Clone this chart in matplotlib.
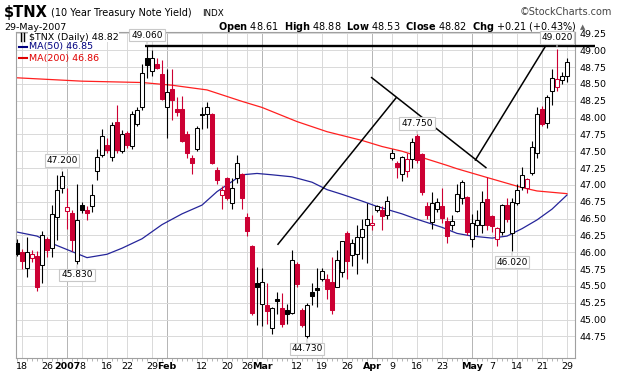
import matplotlib
matplotlib.use("Agg")
from matplotlib import pyplot as plt
from matplotlib.patches import Rectangle
import numpy as np
import pandas as pd

# trading days on the chart (15 Dec is cut off by the left edge)
holidays = ["2006-12-25", "2007-01-01", "2007-01-02", "2007-01-15",
            "2007-02-19", "2007-04-06", "2007-05-28"]
days = pd.bdate_range("2006-12-15", "2007-05-29")
days = days[~days.isin(pd.to_datetime(holidays))]

# daily OHLC of $TNX (yield x10)
opens = [46.14, 46.00, 45.77, 45.92, 45.94, 45.81, 46.19, 46.06, 46.52, 46.96,
         46.61, 46.58, 45.87, 46.70, 46.63, 46.69, 47.21, 47.44, 47.59, 47.41,
         47.94, 47.51, 47.77, 47.58, 47.90, 48.15, 48.88, 48.69, 48.79, 48.64,
         48.15, 48.43, 48.13, 48.13, 47.75, 47.40, 47.54, 48.06, 48.05, 48.06,
         47.22, 46.85, 47.10, 46.73, 47.10, 47.16, 46.52, 46.09, 45.54, 45.23,
         45.21, 44.87, 45.30, 45.17, 45.15, 45.10, 45.82, 45.15, 44.75, 45.41,
         45.47, 45.61, 45.61, 45.56, 45.49, 45.71, 46.29, 45.96, 45.98, 46.22,
         46.40, 46.40, 46.62, 46.62, 46.56, 47.40, 47.33, 47.16, 47.20, 47.38,
         47.72, 47.46, 46.69, 46.45, 46.64, 46.69, 46.46, 46.40, 46.61, 46.80,
         46.82, 46.20, 46.41, 46.40, 46.79, 46.54, 46.20, 46.30, 46.70, 46.29,
         46.73, 46.97, 46.96, 47.18, 47.48, 48.13, 47.92, 48.40, 48.45, 48.55,
         48.61]
highs = [46.20, 46.05, 46.23, 46.03, 46.02, 46.31, 46.23, 46.70, 47.15, 47.20,
         46.95, 46.62, 47.02, 46.75, 46.68, 47.02, 47.54, 47.83, 47.69, 47.94,
         48.19, 47.82, 47.80, 48.10, 48.15, 48.79, 49.06, 49.01, 48.88, 48.85,
         48.72, 48.72, 48.30, 48.32, 47.80, 47.45, 47.87, 48.15, 48.23, 48.07,
         47.26, 46.99, 47.12, 47.10, 47.44, 47.18, 46.59, 46.11, 45.78, 45.76,
         45.54, 45.19, 45.41, 45.39, 45.23, 46.03, 45.86, 45.17, 45.24, 45.54,
         45.77, 45.77, 45.68, 45.93, 46.03, 46.16, 46.31, 46.20, 46.40, 46.50,
         46.73, 46.55, 46.70, 46.68, 46.83, 47.54, 47.35, 47.43, 47.48, 47.70,
         47.75, 47.47, 46.75, 46.90, 46.80, 46.96, 46.53, 46.55, 47.02, 47.07,
         46.83, 46.57, 46.63, 46.91, 47.11, 46.55, 46.37, 46.72, 46.80, 46.80,
         47.02, 47.27, 47.10, 47.65, 48.16, 48.17, 48.33, 48.72, 49.02, 48.67,
         48.88]
lows = [45.95, 45.75, 45.64, 45.86, 45.43, 45.54, 45.93, 45.93, 46.18, 46.88,
        46.35, 46.02, 45.83, 46.58, 46.48, 46.60, 47.07, 47.41, 47.47, 47.36,
        47.47, 47.47, 47.55, 47.54, 47.87, 48.11, 48.58, 48.62, 48.72, 48.26,
        47.70, 47.97, 48.03, 47.64, 47.40, 47.16, 47.50, 47.83, 47.85, 47.31,
        47.01, 46.64, 46.78, 46.64, 47.03, 46.64, 46.24, 45.07, 44.92, 44.91,
        44.94, 44.78, 45.09, 44.89, 44.94, 45.09, 45.49, 44.89, 44.73, 45.21,
        45.19, 45.58, 45.31, 45.08, 45.48, 45.64, 45.61, 45.80, 45.68, 45.90,
        45.84, 46.33, 46.60, 46.33, 46.50, 47.37, 47.10, 47.06, 47.12, 47.25,
        47.33, 46.85, 46.50, 46.35, 46.60, 46.43, 46.13, 46.33, 46.60, 46.72,
        46.25, 46.08, 46.25, 46.29, 46.33, 46.30, 46.10, 46.25, 46.45, 46.02,
        46.70, 46.92, 46.88, 47.15, 47.40, 47.87, 47.85, 48.18, 48.40, 48.50,
        48.53]
closes = [45.98, 45.87, 46.00, 45.97, 45.49, 46.26, 46.04, 46.57, 46.92, 47.13,
          46.67, 46.18, 46.48, 46.62, 46.58, 46.85, 47.41, 47.72, 47.52, 47.89,
          47.52, 47.75, 47.59, 48.05, 48.11, 48.66, 48.78, 48.89, 48.73, 48.27,
          48.38, 48.26, 48.08, 47.65, 47.47, 47.32, 47.85, 48.04, 48.16, 47.32,
          47.07, 46.92, 46.81, 46.95, 47.32, 46.80, 46.32, 45.10, 45.49, 45.56,
          45.13, 45.17, 45.27, 44.94, 45.08, 45.89, 45.53, 44.92, 45.21, 45.35,
          45.44, 45.72, 45.45, 45.15, 45.89, 46.16, 45.87, 46.13, 46.22, 46.34,
          46.50, 46.44, 46.68, 46.54, 46.76, 47.47, 47.26, 47.41, 47.39, 47.63,
          47.37, 46.90, 46.56, 46.73, 46.75, 46.51, 46.24, 46.47, 46.87, 47.05,
          46.30, 46.44, 46.48, 46.75, 46.41, 46.39, 46.36, 46.70, 46.50, 46.74,
          46.92, 47.14, 47.09, 47.56, 48.05, 47.90, 48.31, 48.58, 48.57, 48.61,
          48.82]
prev_close = 45.90  # close before the first bar, only sets its colour

# moving averages (position: trading day, 18 Dec = 0)
ma50_pos = [-1, 3, 6, 9, 13, 17, 20, 24, 28, 32, 36, 39, 44, 47, 50, 54, 58,
            61, 64, 68, 71, 76, 79, 84, 87, 90, 94, 97, 100, 103, 106, 109]
ma50_vals = [46.30, 46.24, 46.13, 46.04, 45.92, 45.97, 46.06, 46.20, 46.41,
             46.57, 46.70, 46.90, 47.15, 47.17, 47.15, 47.12, 47.04, 46.93,
             46.86, 46.76, 46.68, 46.57, 46.49, 46.37, 46.28, 46.24, 46.21,
             46.24, 46.35, 46.48, 46.64, 46.85]
ma200_pos = [-1, 12, 24, 30, 37, 44, 48, 52, 55, 61, 68, 72, 76, 79, 85, 87,
             93, 100, 103, 109]
ma200_vals = [48.59, 48.54, 48.52, 48.48, 48.41, 48.24, 48.15, 48.03, 47.94,
              47.79, 47.66, 47.57, 47.50, 47.43, 47.29, 47.24, 47.11, 46.96,
              46.91, 46.87]

# hand drawn trend lines: (day0, value0, day1, value1)
trendlines = [(24.6, 49.06, 114.6, 49.06),
              (51.1, 46.11, 74.9, 48.30),
              (69.8, 48.60, 92.9, 47.25),
              (90.6, 47.36, 104.7, 49.06)]

# flagged highs / lows
flag_days = [25, 8, 11, 57, 79, 98, 107]
flag_kind = ["high", "high", "low", "low", "high", "low", "high"]

tick_dates = ["2006-12-18", "2006-12-26", "2007-01-03", "2007-01-08",
              "2007-01-16", "2007-01-22", "2007-01-29", "2007-02-01",
              "2007-02-12", "2007-02-20", "2007-02-26", "2007-03-01",
              "2007-03-12", "2007-03-19", "2007-03-26", "2007-04-02",
              "2007-04-09", "2007-04-16", "2007-04-23", "2007-05-01",
              "2007-05-07", "2007-05-14", "2007-05-21", "2007-05-29"]
tick_labels = ["18", "26", "2007", "8", "16", "22", "29", "Feb", "12", "20",
               "26", "Mar", "12", "19", "26", "Apr", "9", "16", "23", "May",
               "7", "14", "21", "29"]
bold_labels = ["2007", "Feb", "Mar", "Apr", "May"]

red = "#cc0033"
x = np.arange(len(days)) - 1  # 18 Dec 2006 -> 0

fig = plt.figure(figsize=(6.2, 3.76), dpi=100)
ax = fig.add_axes([16 / 620, 18 / 376, 559 / 620, 326 / 376])

# candles
prev = np.r_[prev_close, closes[:-1]]
for xi, o, h, l, c, p in zip(x, opens, highs, lows, closes, prev):
    col = red if c < p else "black"
    face = "white" if c > o else col
    ax.vlines(xi, l, h, color=col, lw=0.8, zorder=3)
    ax.add_patch(Rectangle((xi - 0.36, min(o, c)), 0.72, max(abs(c - o), 0.015),
                           facecolor=face, edgecolor=col, lw=0.75, zorder=4))

ax.plot(ma50_pos, ma50_vals, color="#25259a", lw=0.9, zorder=2)
ax.plot(ma200_pos, ma200_vals, color="#ff2020", lw=0.9, zorder=2)

for i, (x0, y0, x1, y1) in enumerate(trendlines):
    ax.plot([x0, x1], [y0, y1], color="black", lw=1.7 if i == 0 else 1.1,
            zorder=6, clip_on=(i != 0), solid_capstyle="butt")

# value flags
for d, kind in zip(flag_days, flag_kind):
    v = highs[d + 1] if kind == "high" else lows[d + 1]
    off = 8 if kind == "high" else -8
    ax.annotate(f"{v:.3f}", xy=(d, v), xytext=(0, off), textcoords="offset points",
                ha="center", va="center", fontsize=6.5, zorder=8,
                bbox=dict(boxstyle="square,pad=0.2", fc="white", ec="#c8c8c8", lw=0.8),
                arrowprops=dict(arrowstyle="-", color="#c8c8c8", lw=0.8,
                                shrinkA=0, shrinkB=1))

ax.set_xlim(-1.2, 110.6)
ax.set_ylim(44.43, 49.27)

tick_pos = [x[days.get_loc(pd.Timestamp(t))] for t in tick_dates]
ax.set_xticks(tick_pos)
ax.set_xticklabels(tick_labels)
ax.set_xticks(x, minor=True)
for lab in ax.get_xticklabels():
    if lab.get_text() in bold_labels:
        lab.set_fontweight("bold")

ax.set_yticks(np.arange(44.75, 49.26, 0.25))
ax.yaxis.set_major_formatter(matplotlib.ticker.FormatStrFormatter("%.2f"))
ax.yaxis.tick_right()
ax.tick_params(which="major", length=0, labelsize=6.8, pad=3)
ax.tick_params(axis="x", which="minor", length=2, color="#aaaaaa", direction="out")

ax.grid(True, color="#d9d9d9", lw=0.7, zorder=0)
ax.set_axisbelow(True)
for t, lab in zip(ax.xaxis.get_major_ticks(), tick_labels):
    if lab in bold_labels:
        t.gridline.set_color("#b4b4b4")
for s in ax.spines.values():
    s.set_color("#a0a0a0")
    s.set_linewidth(0.8)

# header
def px(xp, yp):
    return xp / 620, 1 - yp / 376

fig.text(*px(4, 13), r"\$TNX", fontsize=10.5, weight="bold", va="center")
fig.text(*px(51, 13), "(10 Year Treasury Note Yield)", fontsize=7, va="center")
fig.text(*px(202, 13), "INDX", fontsize=6.3, va="center")
fig.text(*px(612, 12), "\u00a9StockCharts.com", fontsize=7, va="center",
         ha="right", color="#444444")
fig.text(*px(4, 27), "29-May-2007", fontsize=6.8, va="center")
fig.text(*px(577, 27),
         r"$\mathbf{Open}$ 48.61  $\mathbf{High}$ 48.88  $\mathbf{Low}$ 48.53  "
         r"$\mathbf{Close}$ 48.82  $\mathbf{Chg}$ +0.21 (+0.43%)", fontsize=7,
         va="center", ha="right")
fig.text(*px(580, 27), "\u25b2", fontsize=5, va="center", color="#666666")

# legend inside the plot
fig.text(*px(29, 37), r"\$TNX (Daily) 48.82", fontsize=6.8, va="center",
         bbox=dict(fc="white", ec="none", pad=0.5), zorder=10)
fig.text(*px(29, 47), "MA(50) 46.85", fontsize=6.8, va="center", color="#000080")
fig.text(*px(29, 58), "MA(200) 46.86", fontsize=6.8, va="center", color="#e00000")
fig.add_artist(plt.Line2D([19 / 620, 27 / 620], [1 - 47 / 376] * 2,
                          color="#000080", lw=1.5))
fig.add_artist(plt.Line2D([19 / 620, 27 / 620], [1 - 58 / 376] * 2,
                          color="#e00000", lw=1.5))
fig.add_artist(plt.Line2D([21 / 620, 21 / 620], [1 - 33 / 376, 1 - 41 / 376],
                          color="black", lw=1.0))
fig.add_artist(plt.Line2D([24 / 620, 24 / 620], [1 - 33 / 376, 1 - 41 / 376],
                          color="black", lw=1.0))

fig.savefig("out.png", dpi=100)
